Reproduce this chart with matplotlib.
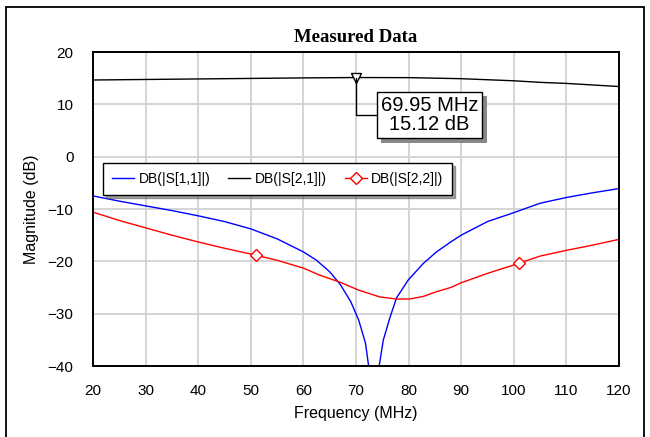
import numpy as np
import matplotlib
matplotlib.use('Agg')
import matplotlib.pyplot as plt
from matplotlib.patches import Rectangle
from matplotlib.lines import Line2D
import matplotlib.patheffects as pe

plt.rcParams['font.family'] = ['Liberation Sans', 'DejaVu Sans']

# S11 (blue)
s11_freq = [20, 25, 30, 35, 40, 45, 50, 55, 60, 62.5, 65, 67, 69, 70.5, 71.8, 72.4, 73.2,
            74.4, 75.2, 76.5, 77.7, 79.9, 82.8, 85.3, 88, 90, 95, 100, 105, 110, 115, 120]
s11_db = [-7.5, -8.5, -9.4, -10.3, -11.3, -12.4, -13.8, -15.7, -18.2, -19.8, -22.0, -24.4,
          -27.7, -31.2, -35.6, -40, -50, -40, -35, -30.6, -27, -23.6, -20.4, -18.2, -16.3,
          -15.0, -12.4, -10.7, -8.9, -7.8, -6.9, -6.1]

# S21 (black)
s21_freq = [20, 30, 40, 50, 60, 69.95, 80, 90, 100, 105, 110, 115, 120]
s21_db = [14.65, 14.75, 14.85, 14.95, 15.05, 15.12, 15.1, 14.9, 14.5, 14.2, 14.0, 13.7, 13.4]

# S22 (red)
s22_freq = [20, 25, 30, 35, 40, 45, 50, 55, 60, 63, 67, 70.5, 74.5, 77.7, 80.2, 82.8, 85.3,
            88, 90, 95, 100, 105, 110, 115, 120]
s22_db = [-10.6, -12.2, -13.6, -15.0, -16.3, -17.5, -18.6, -19.8, -21.3, -22.6, -24.0, -25.5,
          -26.8, -27.2, -27.2, -26.7, -25.8, -25.0, -24.1, -22.3, -20.7, -19.0, -17.9, -16.9,
          -15.8]
s22_mark_freq = [51, 101]

marker_freq = 69.95
marker_db = 15.12

fig = plt.figure(figsize=(6.5, 4.37), dpi=100)
ax = fig.add_axes([93/650, 71/437, 526/650, 314/437])

ax.plot(s11_freq, s11_db, color='#0000ff', lw=1.0)
ax.plot(s21_freq, s21_db, color='black', lw=1.0)
ax.plot(s22_freq, s22_db, color='#ff0000', lw=1.0)
ax.plot(s22_mark_freq, np.interp(s22_mark_freq, s22_freq, s22_db), 'D', color='#ff0000',
        mfc='white', ms=6, mew=1.0, zorder=4)

# marker on S21
ax.plot([marker_freq], [marker_db], 'v', color='black', mfc='white', ms=7, mew=1.0, zorder=5)
t = ax.annotate('%.2f MHz\n%.2f dB' % (marker_freq, marker_db), xy=(marker_freq, marker_db),
                xytext=(84.0, 7.9), ha='center', va='center', multialignment='center',
                fontsize=14.5, linespacing=1.0,
                bbox=dict(boxstyle='square,pad=0.2', fc='white', ec='black', lw=1.0),
                arrowprops=dict(arrowstyle='-', color='black', lw=1.0, shrinkA=0, shrinkB=0,
                                connectionstyle='angle,angleA=0,angleB=90,rad=0'),
                zorder=6)
t.get_bbox_patch().set_path_effects([pe.SimplePatchShadow(offset=(3, -3), shadow_rgbFace='#888888', alpha=1),
                                     pe.Normal()])

ax.set_xlim(20, 120)
ax.set_ylim(-40, 20)
ax.set_xticks(np.arange(20, 121, 10))
ax.set_yticks(np.arange(-40, 21, 10))
ax.grid(True, color='#d2d2d2', lw=1.3)
ax.set_axisbelow(True)
ax.tick_params(length=0, labelsize=11)
ax.tick_params(axis='y', pad=14)
ax.tick_params(axis='x', pad=13)
for s in ax.spines.values():
    s.set_linewidth(1.4)
    s.set_color('black')

ax.set_xlabel('Frequency (MHz)', fontsize=11.5, labelpad=6)
ax.set_ylabel('Magnitude (dB)', fontsize=11.5, labelpad=6)
ax.set_title('Measured Data', fontsize=13.5, fontweight='bold', family='Liberation Serif', pad=7)

handles = [Line2D([], [], color='#0000ff', lw=1.0),
           Line2D([], [], color='black', lw=1.0),
           Line2D([], [], color='#ff0000', lw=1.0, marker='D', mfc='white', ms=6)]
leg = ax.legend(handles, ['DB(|S[1,1]|)', 'DB(|S[2,1]|)', 'DB(|S[2,2]|)'], ncol=3,
                loc='upper left', bbox_to_anchor=(0.019, 0.646), fontsize=10,
                frameon=True, fancybox=False, shadow=True, edgecolor='black',
                framealpha=1, handlelength=1.6, handletextpad=0.3, columnspacing=1.3,
                borderpad=0.65, borderaxespad=0)
leg.get_frame().set_linewidth(1.0)

fig.add_artist(Rectangle((6/650, -0.05), 638/650, 1.05 - 7/437, fill=False,
                         ec='black', lw=1.3, transform=fig.transFigure, clip_on=False))

fig.savefig('out.png', dpi=100)
